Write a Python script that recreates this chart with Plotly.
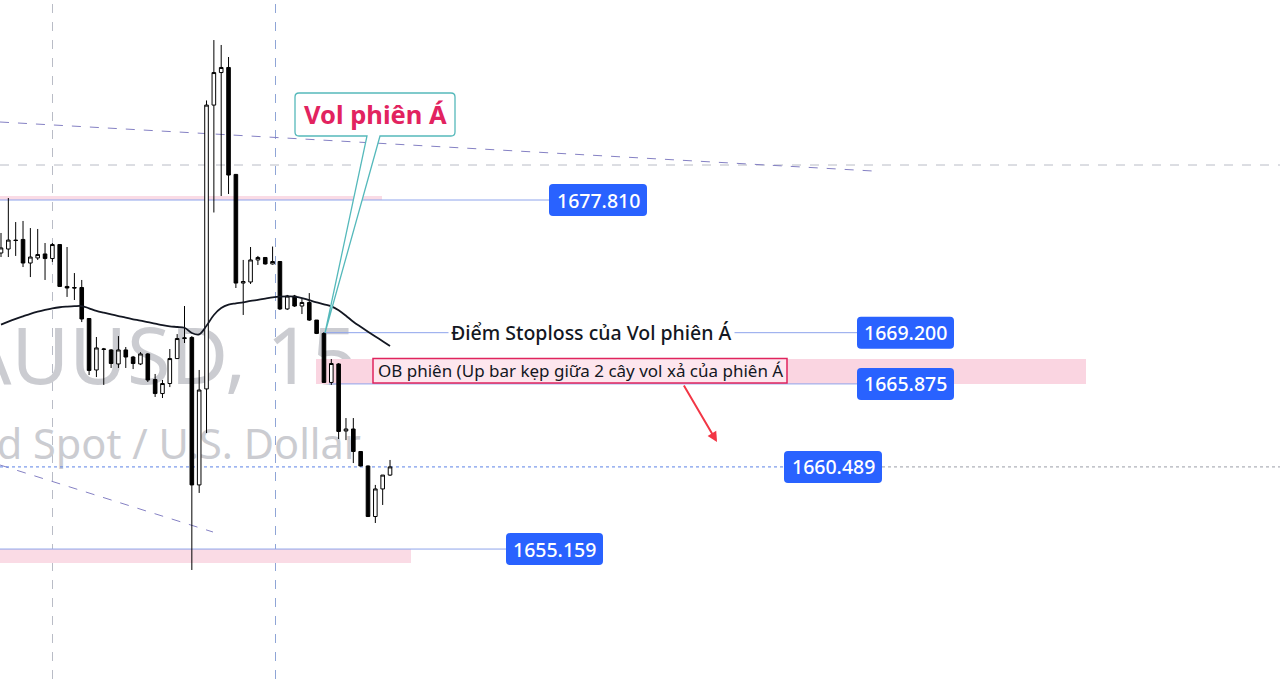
import plotly.graph_objects as go

W, H = 1280, 679

# XAUUSD 15m candles
opens = [1674.37, 1674.63, 1675.21, 1675.25, 1673.72, 1674.05, 1674.31, 1674.01, 1674.92, 1672.20,
         1672.13, 1672.13, 1670.12, 1666.78, 1668.11, 1668.08, 1667.17, 1668.08, 1667.62, 1667.17,
         1667.82, 1666.16, 1665.25, 1665.90, 1667.52, 1668.82, 1668.89, 1659.32, 1665.55, 1683.97,
         1686.08, 1686.41, 1679.47, 1672.42, 1672.49, 1673.92, 1674.08, 1673.66, 1673.82, 1670.74,
         1671.58, 1670.93, 1671.16, 1670.02, 1669.15, 1665.97, 1667.17, 1662.82, 1662.95, 1661.49,
         1660.55, 1657.27, 1659.06, 1659.96]
highs = [1675.67, 1677.94, 1676.38, 1676.45, 1675.99, 1675.93, 1675.02, 1675.02, 1674.95, 1674.76,
         1673.07, 1672.62, 1670.15, 1668.92, 1668.21, 1668.14, 1668.98, 1668.27, 1667.69, 1667.94,
         1667.88, 1666.52, 1666.13, 1668.14, 1669.11, 1670.93, 1668.98, 1666.78, 1684.27, 1688.19,
         1687.87, 1687.09, 1679.50, 1673.92, 1674.76, 1674.18, 1674.11, 1674.79, 1673.85, 1671.65,
         1671.65, 1671.39, 1671.77, 1670.02, 1669.24, 1667.49, 1667.23, 1663.66, 1663.66, 1661.52,
         1660.58, 1659.32, 1659.96, 1660.94]
lows = [1674.11, 1674.11, 1674.18, 1673.46, 1672.81, 1673.92, 1672.62, 1673.79, 1672.17, 1671.52,
        1671.32, 1669.89, 1666.45, 1666.32, 1665.81, 1666.91, 1666.91, 1666.91, 1666.84, 1667.10,
        1666.00, 1665.03, 1664.96, 1665.67, 1667.49, 1668.53, 1653.80, 1658.80, 1662.69, 1677.00,
        1678.07, 1678.20, 1672.10, 1670.35, 1672.36, 1673.59, 1673.62, 1673.62, 1670.67, 1670.67,
        1670.87, 1670.41, 1669.96, 1669.11, 1665.94, 1665.81, 1662.30, 1662.23, 1660.74, 1660.52,
        1657.24, 1656.85, 1658.02, 1659.90]
closes = [1674.70, 1675.21, 1675.18, 1673.72, 1674.11, 1674.27, 1674.01, 1674.92, 1672.20, 1672.10,
          1672.10, 1670.09, 1666.75, 1668.21, 1668.14, 1667.20, 1668.08, 1667.62, 1667.20, 1667.82,
          1666.13, 1665.25, 1665.90, 1667.52, 1668.82, 1668.86, 1659.32, 1665.48, 1683.97, 1686.08,
          1686.41, 1679.43, 1672.42, 1672.52, 1673.92, 1674.08, 1673.66, 1673.82, 1670.74, 1671.58,
          1670.93, 1671.16, 1670.02, 1669.15, 1665.97, 1667.20, 1662.79, 1662.95, 1661.49, 1660.55,
          1657.27, 1659.06, 1659.96, 1660.49]
ma_line = [1669.72, 1669.92, 1670.10, 1670.26, 1670.42, 1670.56, 1670.68, 1670.78, 1670.85, 1670.89,
           1670.92, 1670.93, 1670.78, 1670.62, 1670.50, 1670.39, 1670.28, 1670.17, 1670.07, 1669.98,
           1669.88, 1669.79, 1669.69, 1669.61, 1669.57, 1669.52, 1669.18, 1669.09, 1669.65, 1670.35,
           1670.80, 1671.02, 1671.10, 1671.17, 1671.26, 1671.33, 1671.41, 1671.49, 1671.54, 1671.55,
           1671.54, 1671.45, 1671.31, 1671.17, 1671.04, 1670.91, 1670.65, 1670.30, 1669.91, 1669.58,
           1669.26, 1668.95, 1668.65, 1668.34]
bars = list(range(len(opens)))

# price levels drawn on the chart
level_high = 1677.810
level_stop = 1669.200
level_ob = 1665.875
level_last = 1660.489
level_low = 1655.159
ob_zone = [1665.875, 1667.49]

stop_text = "Điểm Stoploss của Vol phiên Á"
ob_text = "OB phiên (Up bar kẹp giữa 2 cây vol xả của phiên Á"
vol_text = "Vol phiên Á"
wm_symbol = "XAUUSD, 15"
wm_name = "Gold Spot / U.S. Dollar"

FONT = "Noto Sans"
BLUE = "#2962ff"
LINE_BLUE = "#8ea4ec"


def px(x):
    return x / W


def py(y):
    return 1 - y / H


shapes = []
annotations = []


def note(x, y, text, font, xref="paper", yref="paper", **kw):
    annotations.append(dict(xref=xref, yref=yref, x=x, y=y, text=text, showarrow=False,
                            xanchor="center", yanchor="middle", font=font, **kw))


def hline(price, x0, x1, color=LINE_BLUE, dash="solid"):
    shapes.append(dict(type="line", xref="paper", yref="y", x0=px(x0), x1=px(x1), y0=price, y1=price,
                       line=dict(color=color, width=1, dash=dash), layer="below"))


def band(price, x0, x1, up, down, color="#fadbe5"):
    shapes.append(dict(type="rect", xref="paper", yref="y", ysizemode="pixel", yanchor=price,
                       x0=px(x0), x1=px(x1), y0=-down, y1=up, fillcolor=color, line=dict(width=0),
                       layer="below"))


def price_tag(price, x0, x1):
    r = 4
    h = 16
    a, b = px(x0), px(x1)
    ra = r / W
    path = (f"M {a+ra},{h} L {b-ra},{h} Q {b},{h} {b},{h-r} L {b},{-h+r} Q {b},{-h} {b-ra},{-h} "
            f"L {a+ra},{-h} Q {a},{-h} {a},{-h+r} L {a},{h-r} Q {a},{h} {a+ra},{h} Z")
    shapes.append(dict(type="path", xref="paper", yref="y", ysizemode="pixel", yanchor=price,
                       path=path, fillcolor=BLUE, line=dict(width=0)))
    note(px((x0 + x1) / 2), price, f"{price:.3f}", dict(family=FONT, size=19.5, color="white", weight=500),
         yref="y")


# grid / helper lines
for xv, col in [(52.5, "#b9bcc6"), (275.5, "#8fa5d6")]:
    shapes.append(dict(type="line", xref="paper", yref="paper", x0=px(xv), x1=px(xv), y0=0, y1=1,
                       line=dict(color=col, width=1, dash="dash"), layer="below"))
shapes.append(dict(type="line", xref="paper", yref="paper", x0=0, x1=1, y0=py(165), y1=py(165),
                   line=dict(color="#b9bcc6", width=1, dash="dash"), layer="below"))
shapes.append(dict(type="line", xref="paper", yref="paper", x0=0, x1=px(873), y0=py(122), y1=py(171),
                   line=dict(color="#8581c4", width=1, dash="dash"), layer="below"))
shapes.append(dict(type="line", xref="paper", yref="paper", x0=0, x1=px(213), y0=py(465), y1=py(532),
                   line=dict(color="#8581c4", width=1, dash="dash"), layer="below"))

# watermark (below candles)
shapes.append(dict(type="rect", xref="paper", yref="paper", x0=px(-400), x1=px(360), y0=py(402), y1=py(314),
                   line=dict(width=0), fillcolor="rgba(0,0,0,0)", layer="below",
                   label=dict(text=wm_symbol, textposition="middle right", padding=0,
                              font=dict(family=FONT, size=79, color="#cbccd1"))))
shapes.append(dict(type="rect", xref="paper", yref="paper", x0=px(-400), x1=px(364), y0=py(468), y1=py(422),
                   line=dict(width=0), fillcolor="rgba(0,0,0,0)", layer="below",
                   label=dict(text=wm_name, textposition="middle right", padding=0,
                              font=dict(family=FONT, size=41.5, color="#cbccd1"))))

# zones
band(level_high, 0, 382, 4, 0)
band(level_low, 0, 411, 0, 14)
shapes.append(dict(type="rect", xref="paper", yref="y", x0=px(316), x1=px(1086), y0=ob_zone[0], y1=ob_zone[1],
                   fillcolor="#fad5e1", line=dict(width=0), layer="below"))

# level lines
hline(level_high, 0, 549)
hline(level_stop, 323, 858)
hline(level_ob, 329, 858)
hline(level_last, 0, 784, color="#5b82e6", dash="dot")
hline(level_last, 882, 1280, color="#9a9ea8", dash="dot")
hline(level_low, 0, 506)

# OB text box
shapes.append(dict(type="rect", xref="paper", yref="paper", x0=px(373), x1=px(787), y0=py(383), y1=py(358.5),
                   fillcolor="#fde6ee", line=dict(color="#e0245e", width=1.5)))
note(px(580), py(371), ob_text, dict(family=FONT, size=17, color="#131722"))

# stoploss text over its line
note(px(591), level_stop, stop_text, dict(family=FONT, size=19.5, color="#131722", weight=500),
     yref="y", bgcolor="white", borderpad=2)

# red arrow
annotations.append(dict(xref="paper", yref="paper", x=px(717), y=py(442), ax=683 - 717, ay=384 - 442,
                        text="", showarrow=True, arrowhead=2, arrowsize=1, arrowwidth=2,
                        arrowcolor="#f23645"))


# callout "Vol phiên Á"
def pt(x, y):
    return f"{px(x):.5f},{py(y):.5f}"


callout = (f"M {pt(299, 93)} L {pt(451, 93)} Q {pt(455, 93)} {pt(455, 97)} L {pt(455, 132)} "
           f"Q {pt(455, 136)} {pt(451, 136)} L {pt(380, 136)} L {pt(325, 333)} L {pt(367, 136)} "
           f"L {pt(299, 136)} Q {pt(295, 136)} {pt(295, 132)} L {pt(295, 97)} Q {pt(295, 93)} {pt(299, 93)} Z")
shapes.append(dict(type="path", xref="paper", yref="paper", path=callout, fillcolor="white",
                   line=dict(color="#55b9bb", width=1.3)))
note(px(375), py(114), vol_text, dict(family=FONT, size=25.5, color="#e2235f", weight="bold"))

# price tags
price_tag(level_high, 549, 647)
price_tag(level_stop, 857, 954)
price_tag(level_ob, 857, 954)
price_tag(level_last, 784, 882)
price_tag(level_low, 506, 603)

fig = go.Figure()
fig.add_trace(go.Candlestick(
    x=bars, open=opens, high=highs, low=lows, close=closes,
    increasing=dict(line=dict(color="#000000", width=1), fillcolor="#ffffff"),
    decreasing=dict(line=dict(color="#000000", width=1), fillcolor="#000000"),
    whiskerwidth=0, hoverinfo="skip", showlegend=False))
fig.add_trace(go.Scatter(x=bars, y=ma_line, mode="lines", line=dict(color="#131722", width=1.8, shape="spline"),
                         hoverinfo="skip", showlegend=False))

x_start = -1 / 7.34
fig.update_layout(
    width=W, height=H, margin=dict(l=0, r=0, t=0, b=0),
    paper_bgcolor="white", plot_bgcolor="white",
    xaxis=dict(range=[x_start, x_start + W / 7.34], visible=False, rangeslider=dict(visible=False)),
    yaxis=dict(range=[1646.726, 1690.789], visible=False),
    shapes=shapes, annotations=annotations, showlegend=False,
    font=dict(family=FONT),
)

fig.write_html("out.html", config={"displayModeBar": False},
               post_script="document.body.style.margin='0px';")
